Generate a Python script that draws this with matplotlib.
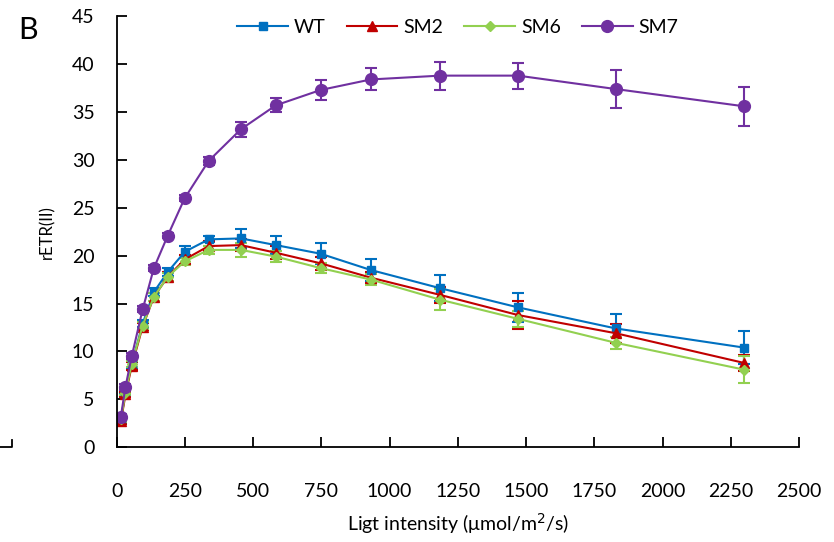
import matplotlib.pyplot as plt
from matplotlib.lines import Line2D

plt.rcParams['font.family'] = ['Lato', 'DejaVu Sans']

# light intensity (umol/m2/s)
par = [15, 32, 55, 95, 136, 187, 249, 337, 455, 583, 747, 931, 1185, 1470, 1828, 2298]

wt = [2.8, 5.8, 8.7, 12.9, 16.2, 18.3, 20.4, 21.7, 21.8, 21.1, 20.2, 18.5, 16.6, 14.6, 12.4, 10.4]
wt_err = [0.3, 0.3, 0.4, 0.4, 0.4, 0.4, 0.6, 0.3, 1.0, 0.9, 1.1, 1.15, 1.35, 1.55, 1.55, 1.7]
sm2 = [2.7, 5.5, 8.5, 12.6, 15.7, 17.8, 19.6, 21.0, 21.1, 20.3, 19.2, 17.7, 15.9, 13.8, 11.9, 8.8]
sm2_err = [0.3, 0.3, 0.4, 0.4, 0.4, 0.5, 0.5, 0.5, 0.6, 0.7, 0.7, 0.6, 0.8, 1.5, 1.0, 0.8]
sm6 = [2.9, 5.7, 8.7, 12.7, 15.7, 17.8, 19.4, 20.6, 20.6, 19.9, 18.7, 17.5, 15.4, 13.4, 10.9, 8.1]
sm6_err = [0.3, 0.3, 0.3, 0.4, 0.4, 0.4, 0.4, 0.4, 0.7, 0.6, 0.5, 0.6, 1.1, 0.8, 0.6, 1.4]
sm7 = [3.2, 6.3, 9.5, 14.4, 18.7, 22.1, 26.0, 29.9, 33.2, 35.7, 37.3, 38.4, 38.8, 38.8, 37.4, 35.6]
sm7_err = [0.3, 0.3, 0.3, 0.3, 0.3, 0.3, 0.3, 0.4, 0.8, 0.75, 1.0, 1.15, 1.45, 1.35, 1.95, 2.05]

series = [
    ('WT', wt, wt_err, '#0070C0', 's', 6),
    ('SM2', sm2, sm2_err, '#C00000', '^', 7),
    ('SM6', sm6, sm6_err, '#92D050', 'D', 5),
    ('SM7', sm7, sm7_err, '#7030A0', 'o', 8.5),
]

fig = plt.figure(figsize=(8.34, 5.42), dpi=100)
ax = fig.add_axes([0.140, 0.175, 0.818, 0.795])

handles = []
for name, y, err, c, m, ms in series:
    ax.errorbar(par, y, yerr=err, color=c, lw=1.5, marker=m, ms=ms,
                capsize=4, capthick=1.5, elinewidth=1.5, label=name)
    handles.append(Line2D([], [], color=c, lw=1.5, marker=m, ms=ms, label=name))

ax.set_xlim(0, 2500)
ax.set_ylim(0, 45)
ax.set_xticks(range(0, 2501, 250))
ax.set_yticks(range(0, 46, 5))
ax.spines['top'].set_visible(False)
ax.spines['right'].set_visible(False)
for s in ('left', 'bottom'):
    ax.spines[s].set_linewidth(1.3)
ax.tick_params(axis='x', direction='in', length=7, width=1.3, pad=26, labelsize=14)
ax.tick_params(axis='y', direction='in', length=7, width=1.3, pad=16, labelsize=14)

ax.set_xlabel('Ligt intensity (\u03bcmol/m$^2$/s)', fontsize=14, labelpad=8)
ax.set_ylabel('rETR(II)', fontsize=12, labelpad=12)

ax.legend(handles=handles, loc='upper center', bbox_to_anchor=(0.5, 1.035),
          ncol=4, frameon=False, fontsize=14, handlelength=2.6, columnspacing=1.1,
          handletextpad=0.3)

fig.text(0.022, 0.945, 'B', fontsize=22, va='center')
# fragment of the neighbouring panel at the left edge
fig.add_artist(Line2D([0, 0.014, 0.014], [0.175, 0.175, 0.188], color='black', lw=1.3))

fig.savefig('out.png', dpi=100)
